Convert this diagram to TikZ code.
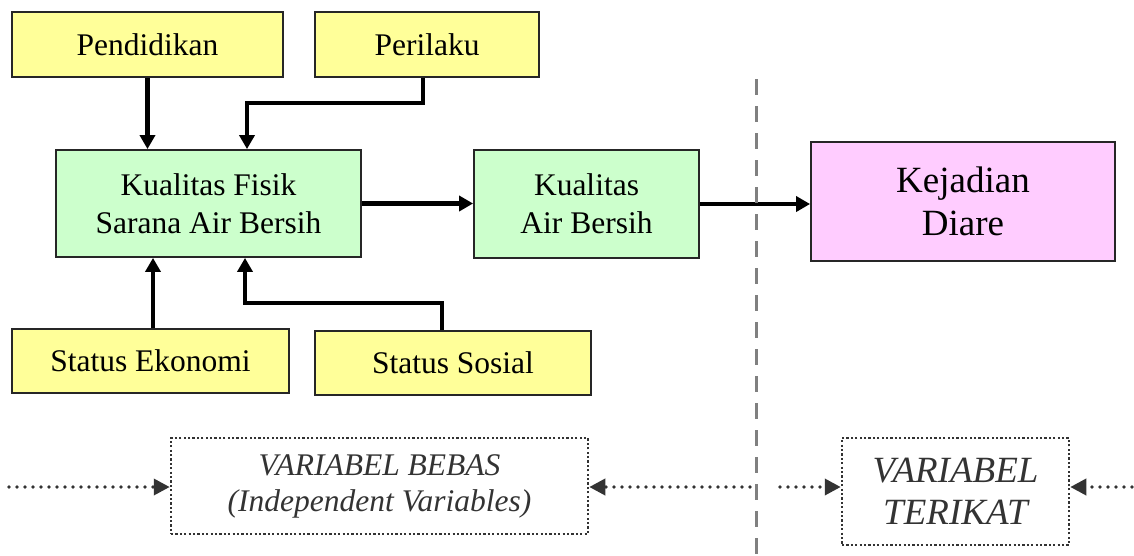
\documentclass[tikz,border=0pt]{standalone}
\usepackage{fontspec}
\setmainfont{Liberation Serif}
\usetikzlibrary{arrows.meta}

\definecolor{kuning}{HTML}{FFFF99}
\definecolor{hijau}{HTML}{CCFFCC}
\definecolor{merahmuda}{HTML}{FFCCFF}
\definecolor{abu}{HTML}{333333}

\begin{document}
\begin{tikzpicture}[x=1pt, y=-1pt,
  box/.style={draw=black!85, line width=1.8pt, inner sep=0pt, align=center,
    font=\fontsize{31.5}{38}\selectfont},
  varbox/.style={draw=abu, line width=2.5pt, dash pattern=on 2.2pt off 2.2pt,
    inner sep=0pt, align=center, text=abu},
  arr/.style={line width=4.2pt, -{Triangle[length=14pt, width=15pt]}},
  dotarr/.style={abu, line width=3.6pt, line cap=round, dash pattern=on 0pt off 8pt,
    -{Triangle[length=16pt, width=16pt]}}]
  \useasboundingbox (0,0) rectangle (1134,555);

  % faktor-faktor
  \node[box, fill=kuning, minimum width=271pt, minimum height=65pt] (pend) at (147.5,44.5) {Pendidikan};
  \node[box, fill=kuning, minimum width=224pt, minimum height=65pt] (peri) at (427,44.5) {Perilaku};
  \node[box, fill=kuning, minimum width=277pt, minimum height=64pt] (ekon) at (150.5,361) {Status Ekonomi};
  \node[box, fill=kuning, minimum width=276pt, minimum height=64pt] (sos) at (453,363) {Status Sosial};

  \node[box, fill=hijau, minimum width=305pt, minimum height=107pt] (fisik) at (208.5,203.5) {Kualitas Fisik\\Sarana Air Bersih};
  \node[box, fill=hijau, minimum width=225pt, minimum height=108pt] (air) at (586.5,204) {Kualitas\\Air Bersih};
  \node[box, fill=merahmuda, minimum width=304pt, minimum height=119pt,
    font=\fontsize{37}{43}\selectfont] (diare) at (963,201.5) {Kejadian\\Diare};

  \draw[arr] (pend.south) -- (pend.south |- fisik.north);
  \draw[arr] ([xshift=-4pt]peri.south) -- ++(0,25) -| ([xshift=38.5pt]fisik.north);
  \draw[arr] ([xshift=2.5pt]ekon.north) -- ([xshift=-55.5pt]fisik.south);
  \draw[arr] ([xshift=-11pt]sos.north) -- ++(0,-27) -| ([xshift=36.5pt]fisik.south);
  \draw[arr] (fisik.east) -- (fisik.east -| air.west);
  \draw[arr] (air.east) -- (air.east -| diare.west);

  % garis pemisah
  \coordinate (gtop) at (756,79);
  \coordinate (gbot) at (756,555);
  \draw[black!50, line width=3pt, dash pattern=on 16pt off 11pt] (gtop) -- (gbot);

  % keterangan variabel
  \node[varbox, minimum width=417pt, minimum height=96pt,
    font=\fontsize{31.5}{36}\selectfont\itshape] (bebas) at (379.5,486) {VARIABEL BEBAS\\(Independent Variables)};
  \node[varbox, minimum width=227pt, minimum height=107pt,
    font=\fontsize{37}{42}\selectfont\itshape] (terikat) at (955.5,491.5) {VARIABEL\\TERIKAT};

  \coordinate (a1) at (9,487);
  \coordinate (a2) at (750,487);
  \coordinate (a3) at (780,487);
  \coordinate (a4) at (1132,487);
  \draw[dotarr] (a1) -- (a1 -| bebas.west);
  \draw[dotarr] (a2) -- (a2 -| bebas.east);
  \draw[dotarr] (a3) -- (a3 -| terikat.west);
  \draw[dotarr] (a4) -- (a4 -| terikat.east);
\end{tikzpicture}
\end{document}
